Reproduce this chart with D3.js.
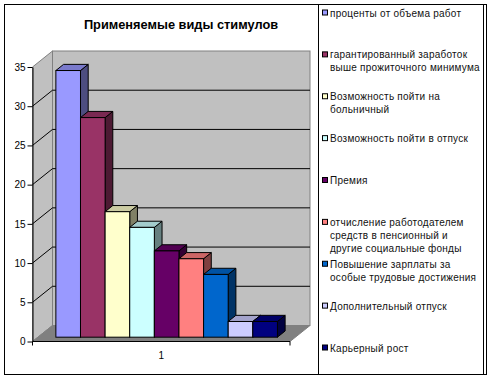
<!DOCTYPE html>
<html>
<head>
<meta charset="utf-8">
<script src="https://cdn.jsdelivr.net/npm/d3@7"></script>
<style>
  html, body { margin: 0; padding: 0; background: #fff; }
  svg { display: block; }
  text { font-family: "Liberation Sans", Arial, sans-serif; }
</style>
</head>
<body>
<svg id="chart" width="491" height="379"></svg>
<script>
// ---- data ----
const title = "Применяемые виды стимулов";
const categories = ["1"];
const seriesNames = [
  ["проценты от объема работ"],
  ["гарантированный заработок", "выше прожиточного минимума"],
  ["Возможность пойти на", "больничный"],
  ["Возможность пойти в отпуск"],
  ["Премия"],
  ["отчисление работодателем", "средств в пенсионный и", "другие социальные фонды"],
  ["Повышение зарплаты за", "особые трудовые достижения"],
  ["Дополнительный отпуск"],
  ["Карьерный рост"]
];
const seriesValues = [34, 28, 16, 14, 11, 10, 8, 2, 2];
const seriesColors = ["#9999FF", "#993366", "#FFFFCC", "#CCFFFF", "#660066", "#FF8080", "#0066CC", "#CCCCFF", "#000080"];
const yTicks = [0, 5, 10, 15, 20, 25, 30, 35];

// ---- layout ----
const svg = d3.select("#chart");
const front = { x0: 32.5, x1: 290, yBottom: 341.5, yTop: 67 };
const depth = { dx: 20, dy: -16 };
const barFront = 0.27, barBack = 0.655;

const y = d3.scaleLinear().domain([0, 35]).range([front.yBottom, front.yTop]);
const xCat = d3.scaleBand().domain(categories).range([front.x0, front.x1]);
const xSer = d3.scaleBand().domain(d3.range(seriesValues.length))
  .range([xCat(categories[0]), xCat(categories[0]) + xCat.bandwidth()])
  .paddingInner(0).paddingOuter(0.73);

// outer border
svg.append("rect").attr("x", 4.5).attr("y", 4.5).attr("width", 482).attr("height", 370)
  .attr("fill", "#fff").attr("stroke", "#000").attr("stroke-width", 1);

// title
svg.append("text").attr("x", 181).attr("y", 28.5).attr("text-anchor", "middle")
  .attr("font-size", 12.8).attr("font-weight", "bold").attr("fill", "#000").text(title);

// walls
const bx0 = front.x0 + depth.dx, bx1 = front.x1 + depth.dx;
const yb = v => y(v) + depth.dy;
const wallFill = "#C0C0C0", wallStroke = "#808080";
svg.append("path").attr("d", d3.line()([[front.x0, y(35)], [bx0, yb(35)], [bx0, yb(0)], [front.x0, y(0)]]) + "Z")
  .attr("fill", wallFill).attr("stroke", wallStroke);
svg.append("rect").attr("x", bx0).attr("y", yb(35)).attr("width", bx1 - bx0).attr("height", yb(0) - yb(35))
  .attr("fill", wallFill).attr("stroke", wallStroke);
svg.append("path").attr("d", d3.line()([[front.x0, y(0)], [bx0, yb(0)], [bx1, yb(0)], [front.x1, y(0)]]) + "Z")
  .attr("fill", "#808080").attr("stroke", "#808080");

// gridlines
yTicks.filter(v => v > 0 && v < 35).forEach(v => {
  svg.append("path").attr("d", d3.line()([[front.x0, y(v)], [bx0, yb(v)], [bx1, yb(v)]]))
    .attr("fill", "none").attr("stroke", "#000").attr("stroke-width", 1);
});

// bars
const bw = xSer.bandwidth();
const fdx = barFront * depth.dx, fdy = barFront * depth.dy;
const kdx = barBack * depth.dx, kdy = barBack * depth.dy;
seriesValues.forEach((v, i) => {
  const c = d3.color(seriesColors[i]);
  const xl = xSer(i) + fdx, xr = xl + bw;
  const yt = y(v) + fdy, ybot = y(0) + fdy;
  const ddx = kdx - fdx, ddy = kdy - fdy;
  const g = svg.append("g");
  g.append("path").attr("d", d3.line()([[xr, ybot], [xr + ddx, ybot + ddy], [xr + ddx, yt + ddy], [xr, yt]]) + "Z")
    .attr("fill", d3.rgb(c.r * 0.5, c.g * 0.5, c.b * 0.5)).attr("stroke", "#000").attr("stroke-linejoin", "round");
  g.append("path").attr("d", d3.line()([[xl, yt], [xl + ddx, yt + ddy], [xr + ddx, yt + ddy], [xr, yt]]) + "Z")
    .attr("fill", d3.rgb(c.r * 0.8, c.g * 0.8, c.b * 0.8)).attr("stroke", "#000").attr("stroke-linejoin", "round");
  g.append("rect").attr("x", xl).attr("y", yt).attr("width", bw).attr("height", ybot - yt)
    .attr("fill", seriesColors[i]).attr("stroke", "#000");
});

// y axis
const yAxis = d3.axisLeft(y).tickValues(yTicks).tickSize(5).tickPadding(2).tickSizeOuter(0);
const gy = svg.append("g").attr("transform", `translate(${front.x0},0)`).call(yAxis);
gy.select(".domain").attr("stroke", "#000");
gy.selectAll(".tick line").attr("stroke", "#000");
gy.selectAll("text").attr("font-size", 10).attr("font-family", "Liberation Sans, Arial, sans-serif").attr("fill", "#000");

// x axis
const gx = svg.append("g").attr("transform", `translate(0,${front.yBottom})`);
gx.append("line").attr("x1", front.x0).attr("x2", front.x1).attr("stroke", "#000");
[front.x0, front.x1].forEach(xx => gx.append("line").attr("x1", xx).attr("x2", xx).attr("y1", 0).attr("y2", 4).attr("stroke", "#000"));
gx.selectAll("text.cat").data(categories).join("text").attr("class", "cat")
  .attr("x", d => xCat(d) + xCat.bandwidth() / 2).attr("y", 17).attr("text-anchor", "middle")
  .attr("font-size", 10).attr("fill", "#000").text(d => d);

// legend
const lg = svg.append("g");
lg.append("rect").attr("x", 318.5).attr("y", 4.5).attr("width", 165).attr("height", 370)
  .attr("fill", "#fff").attr("stroke", "#000");
const legendY = d3.scaleLinear().domain([0, seriesNames.length - 1]).range([13, 348]);
seriesNames.forEach((lines, i) => {
  const yy = legendY(i);
  lg.append("rect").attr("x", 322.5).attr("y", yy - 3).attr("width", 5).attr("height", 5)
    .attr("fill", seriesColors[i]).attr("stroke", "#000");
  const t = lg.append("text").attr("x", 330).attr("y", yy + 3.5).attr("font-size", 10)
    .attr("letter-spacing", 0.25).attr("fill", "#111");
  lines.forEach((ln, j) => t.append("tspan").attr("x", 330).attr("dy", j === 0 ? 0 : 13).text(ln));
});
</script>
</body>
</html>
